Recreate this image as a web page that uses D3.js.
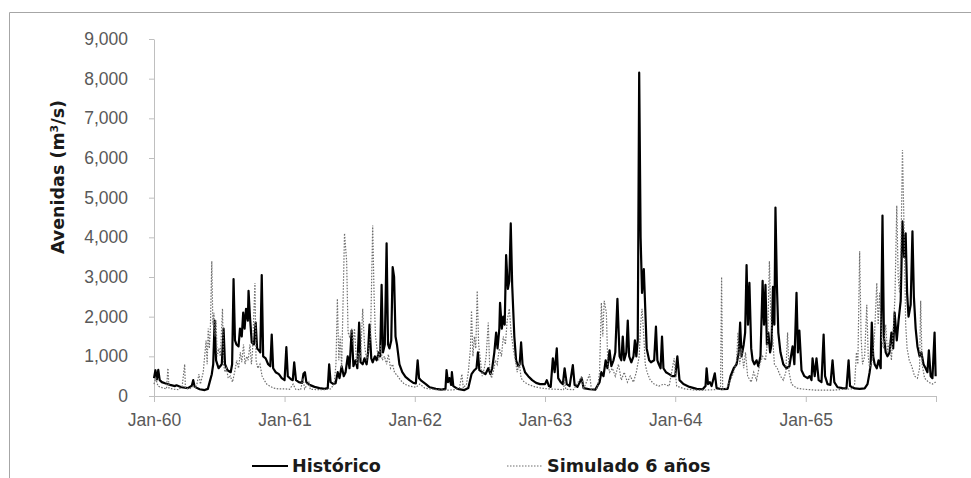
<!DOCTYPE html>
<html lang="es">
<head>
<meta charset="UTF-8">
<title>Avenidas</title>
<script src="https://d3js.org/d3.v7.min.js"></script>
<style>
  body { margin: 0; background: #fff; }
  svg { display: block; font-family: "DejaVu Sans", sans-serif; }
  .axis text { fill: #595959; font-size: 17.5px; }
  .axis path, .axis line { stroke: #bfbfbf; }
  .titulo { font-weight: bold; font-size: 17.5px; fill: #1a1a1a; }
  .leyenda text { font-weight: bold; font-size: 17.6px; fill: #1a1a1a; }
</style>
</head>
<body>
<svg width="971" height="478"></svg>
<script>
// ---- datos ----
const yTicks = [0, 1000, 2000, 3000, 4000, 5000, 6000, 7000, 8000, 9000];
const xTickFechas = ["1960-01-01", "1961-01-01", "1962-01-01", "1963-01-01", "1964-01-01", "1965-01-01", "1966-01-01"];
const xTickEtiquetas = ["Jan-60", "Jan-61", "Jan-62", "Jan-63", "Jan-64", "Jan-65", ""];
const series = ["Histórico", "Simulado 6 años"];

const historico = [
  ["1960-01-01",450],["1960-01-05",650],["1960-01-09",420],["1960-01-13",660],["1960-01-17",400],["1960-01-23",350],
  ["1960-02-01",320],["1960-02-15",280],["1960-02-29",250],["1960-03-04",270],["1960-03-18",220],["1960-04-05",200],
  ["1960-04-16",260],["1960-04-20",400],["1960-04-24",230],["1960-05-08",170],["1960-05-22",150],["1960-05-31",180],
  ["1960-06-05",350],["1960-06-11",550],["1960-06-15",800],["1960-06-19",1900],["1960-06-23",900],["1960-06-30",700],
  ["1960-07-09",800],["1960-07-14",1700],["1960-07-18",800],["1960-07-25",650],["1960-08-03",600],["1960-08-07",800],
  ["1960-08-11",2950],["1960-08-15",1400],["1960-08-19",1300],["1960-08-25",1250],["1960-08-29",1700],["1960-09-03",1500],
  ["1960-09-07",2100],["1960-09-11",1700],["1960-09-15",2200],["1960-09-20",1900],["1960-09-22",2650],["1960-09-26",2000],
  ["1960-10-01",1350],["1960-10-07",1300],["1960-10-12",1850],["1960-10-16",1200],["1960-10-21",1150],["1960-10-25",1100],
  ["1960-10-29",3050],["1960-11-02",1000],["1960-11-09",950],["1960-11-16",800],["1960-11-22",750],["1960-11-26",1550],
  ["1960-11-30",700],["1960-12-07",600],["1960-12-16",550],["1960-12-24",450],
  ["1961-01-01",400],["1961-01-06",1230],["1961-01-10",500],["1961-01-19",420],["1961-01-24",400],["1961-01-28",850],
  ["1961-02-02",400],["1961-02-10",350],["1961-02-19",330],["1961-02-23",560],["1961-02-27",600],["1961-03-03",350],
  ["1961-03-12",280],["1961-03-26",230],["1961-04-09",200],["1961-04-23",180],["1961-05-02",200],["1961-05-06",800],
  ["1961-05-10",350],["1961-05-18",300],["1961-05-24",320],["1961-05-30",600],["1961-06-04",450],["1961-06-10",750],
  ["1961-06-16",500],["1961-06-21",600],["1961-06-27",1000],["1961-07-02",700],["1961-07-08",1650],["1961-07-13",750],
  ["1961-07-19",900],["1961-07-24",700],["1961-07-29",1850],["1961-08-02",850],["1961-08-08",800],["1961-08-13",950],
  ["1961-08-19",800],["1961-08-23",1100],["1961-08-27",1800],["1961-09-01",950],["1961-09-05",850],["1961-09-11",1000],
  ["1961-09-16",900],["1961-09-22",1100],["1961-09-26",1000],["1961-09-30",2800],["1961-10-04",1100],["1961-10-09",1300],
  ["1961-10-14",3850],["1961-10-18",1300],["1961-10-22",1200],["1961-10-27",1400],["1961-10-31",3250],["1961-11-04",3000],
  ["1961-11-08",1500],["1961-11-12",1300],["1961-11-19",800],["1961-11-27",600],["1961-12-06",480],["1961-12-17",400],
  ["1961-12-28",330],
  ["1962-01-04",320],["1962-01-09",900],["1962-01-13",450],["1962-01-20",380],["1962-02-01",300],["1962-02-12",220],
  ["1962-03-01",180],["1962-03-17",160],["1962-03-28",180],["1962-03-31",650],["1962-04-04",350],["1962-04-08",450],
  ["1962-04-13",280],["1962-04-15",600],["1962-04-19",250],["1962-05-01",180],["1962-05-20",150],["1962-05-31",200],
  ["1962-06-09",550],["1962-06-17",650],["1962-06-23",700],["1962-06-27",1100],["1962-07-01",650],["1962-07-09",600],
  ["1962-07-18",550],["1962-07-26",700],["1962-08-01",550],["1962-08-06",700],["1962-08-12",1100],["1962-08-17",1600],
  ["1962-08-21",1200],["1962-08-26",1700],["1962-08-28",2350],["1962-09-02",1700],["1962-09-06",2000],["1962-09-10",1800],
  ["1962-09-14",3550],["1962-09-19",2700],["1962-09-23",2900],["1962-09-27",4350],["1962-10-01",2800],["1962-10-07",1500],
  ["1962-10-12",900],["1962-10-18",750],["1962-10-22",800],["1962-10-26",1350],["1962-10-30",800],["1962-11-06",600],
  ["1962-11-15",500],["1962-11-26",400],["1962-12-07",330],["1962-12-18",300],
  ["1963-01-01",300],["1963-01-06",400],["1963-01-12",250],["1963-01-17",230],["1963-01-23",950],["1963-01-28",600],
  ["1963-02-03",1200],["1963-02-07",450],["1963-02-14",350],["1963-02-20",300],["1963-02-25",700],["1963-03-03",300],
  ["1963-03-11",250],["1963-03-20",780],["1963-03-25",280],["1963-04-02",230],["1963-04-14",450],["1963-04-19",200],
  ["1963-05-06",170],["1963-05-22",160],["1963-06-03",350],["1963-06-08",600],["1963-06-14",500],["1963-06-20",900],
  ["1963-06-25",700],["1963-07-01",1150],["1963-07-06",750],["1963-07-12",900],["1963-07-17",1100],["1963-07-23",2450],
  ["1963-07-29",1000],["1963-08-03",900],["1963-08-07",1500],["1963-08-11",900],["1963-08-17",1100],["1963-08-21",1900],
  ["1963-08-25",1000],["1963-08-31",850],["1963-09-06",1000],["1963-09-10",1400],["1963-09-14",1000],["1963-09-18",1400],
  ["1963-09-22",8150],["1963-09-26",4000],["1963-09-30",2600],["1963-10-05",3200],["1963-10-09",2200],["1963-10-13",1200],
  ["1963-10-20",900],["1963-10-25",850],["1963-11-03",900],["1963-11-08",1750],["1963-11-12",900],["1963-11-16",800],
  ["1963-11-21",700],["1963-11-25",1500],["1963-11-29",700],["1963-12-06",600],["1963-12-15",550],["1963-12-23",500],
  ["1964-01-01",500],["1964-01-07",1000],["1964-01-13",400],["1964-01-24",300],["1964-02-10",230],["1964-03-01",180],
  ["1964-03-18",170],["1964-03-26",250],["1964-03-29",700],["1964-04-02",300],["1964-04-07",350],["1964-04-12",250],
  ["1964-04-21",570],["1964-04-26",200],["1964-05-10",170],["1964-05-27",180],["1964-06-04",500],["1964-06-13",700],
  ["1964-06-21",800],["1964-06-27",1100],["1964-07-01",1850],["1964-07-05",1000],["1964-07-11",1300],["1964-07-15",1600],
  ["1964-07-19",3300],["1964-07-23",1800],["1964-07-27",2850],["1964-08-01",1200],["1964-08-05",900],["1964-08-10",800],
  ["1964-08-16",900],["1964-08-21",750],["1964-08-27",1000],["1964-09-02",2900],["1964-09-06",1800],["1964-09-10",2800],
  ["1964-09-14",1300],["1964-09-18",1600],["1964-09-23",1100],["1964-09-27",1300],["1964-10-01",2750],["1964-10-05",1800],
  ["1964-10-08",4750],["1964-10-12",2800],["1964-10-16",1600],["1964-10-22",1100],["1964-10-30",800],["1964-11-08",700],
  ["1964-11-16",750],["1964-11-25",1250],["1964-11-30",800],["1964-12-06",2600],["1964-12-10",1100],["1964-12-14",1650],
  ["1964-12-20",650],["1964-12-28",500],
  ["1965-01-06",450],["1965-01-12",500],["1965-01-17",400],["1965-01-20",950],["1965-01-26",500],["1965-01-31",950],
  ["1965-02-06",400],["1965-02-14",350],["1965-02-20",1550],["1965-02-24",500],["1965-03-03",300],["1965-03-11",280],
  ["1965-03-17",900],["1965-03-22",350],["1965-03-31",220],["1965-04-14",200],["1965-04-25",190],["1965-05-01",900],
  ["1965-05-05",250],["1965-05-18",190],["1965-06-01",180],["1965-06-15",190],["1965-06-23",300],["1965-06-29",600],
  ["1965-07-02",800],["1965-07-05",1850],["1965-07-09",1000],["1965-07-13",800],["1965-07-19",700],["1965-07-24",900],
  ["1965-07-30",700],["1965-08-04",4550],["1965-08-08",1500],["1965-08-13",1100],["1965-08-18",1000],["1965-08-24",1100],
  ["1965-08-29",1600],["1965-09-03",1200],["1965-09-07",2100],["1965-09-13",1400],["1965-09-18",1900],["1965-09-24",2400],
  ["1965-09-29",4400],["1965-10-04",3500],["1965-10-08",4100],["1965-10-12",2600],["1965-10-16",2000],["1965-10-22",2300],
  ["1965-10-27",4150],["1965-10-31",2500],["1965-11-05",1700],["1965-11-10",1250],["1965-11-16",1000],["1965-11-21",1100],
  ["1965-11-27",800],["1965-12-03",700],["1965-12-08",600],["1965-12-12",1150],["1965-12-17",500],["1965-12-22",450],
  ["1965-12-28",1600],["1965-12-31",500]
];

const simulado = [
  ["1960-01-01",300],["1960-01-06",450],["1960-01-12",250],["1960-01-20",220],["1960-01-28",200],["1960-02-05",180],
  ["1960-02-09",700],["1960-02-12",200],["1960-02-25",170],["1960-03-10",160],["1960-03-20",250],["1960-03-27",800],
  ["1960-03-29",200],["1960-04-10",180],["1960-04-20",250],["1960-04-28",200],["1960-05-06",550],["1960-05-10",300],
  ["1960-05-18",600],["1960-05-22",1000],["1960-05-26",1400],["1960-05-29",800],["1960-06-01",1700],["1960-06-04",1200],
  ["1960-06-07",1700],["1960-06-11",3400],["1960-06-14",1800],["1960-06-17",2100],["1960-06-20",1500],["1960-06-23",1900],
  ["1960-06-26",1000],["1960-07-01",1200],["1960-07-05",1000],["1960-07-11",2200],["1960-07-14",800],["1960-07-18",600],
  ["1960-07-22",700],["1960-07-27",450],["1960-08-02",500],["1960-08-08",350],["1960-08-14",600],["1960-08-20",900],
  ["1960-08-25",700],["1960-08-30",1100],["1960-09-03",850],["1960-09-08",1300],["1960-09-12",800],["1960-09-17",1000],
  ["1960-09-21",900],["1960-09-26",1300],["1960-09-30",800],["1960-10-03",1100],["1960-10-10",2850],["1960-10-13",900],
  ["1960-10-18",700],["1960-10-24",800],["1960-10-30",500],["1960-11-05",400],["1960-11-12",300],["1960-11-20",250],
  ["1960-12-01",200],["1960-12-15",180],
  ["1961-01-01",180],["1961-01-15",170],["1961-01-25",300],["1961-02-01",170],["1961-02-15",160],["1961-02-22",450],
  ["1961-02-26",180],["1961-03-10",350],["1961-03-14",170],["1961-04-01",160],["1961-04-25",160],["1961-05-10",180],
  ["1961-05-20",300],["1961-05-25",800],["1961-05-29",2450],["1961-06-02",900],["1961-06-06",1500],["1961-06-10",700],
  ["1961-06-18",4100],["1961-06-24",3400],["1961-06-28",1600],["1961-07-02",1500],["1961-07-08",1700],["1961-07-12",1300],
  ["1961-07-16",1700],["1961-07-22",800],["1961-07-27",1100],["1961-08-02",1000],["1961-08-08",2200],["1961-08-13",1300],
  ["1961-08-19",900],["1961-08-25",1200],["1961-08-30",1500],["1961-09-05",4300],["1961-09-09",2500],["1961-09-13",1500],
  ["1961-09-17",1200],["1961-09-22",900],["1961-09-27",1300],["1961-10-02",900],["1961-10-08",1000],["1961-10-14",800],
  ["1961-10-19",1050],["1961-10-25",700],["1961-10-31",800],["1961-11-05",600],["1961-11-14",500],["1961-11-22",400],
  ["1961-12-03",300],["1961-12-17",250],
  ["1962-01-04",220],["1962-01-15",300],["1962-01-29",200],["1962-02-12",180],["1962-03-11",150],["1962-04-08",150],
  ["1962-04-25",160],["1962-05-06",200],["1962-05-13",550],["1962-05-17",200],["1962-05-26",300],["1962-05-31",600],
  ["1962-06-06",1200],["1962-06-09",2150],["1962-06-13",1000],["1962-06-17",1500],["1962-06-21",1200],["1962-06-25",2650],
  ["1962-06-29",1300],["1962-07-04",900],["1962-07-09",500],["1962-07-15",700],["1962-07-20",1000],["1962-07-26",1850],
  ["1962-07-30",700],["1962-08-04",450],["1962-08-09",600],["1962-08-15",900],["1962-08-20",800],["1962-08-26",1200],
  ["1962-09-01",1000],["1962-09-06",1500],["1962-09-12",1300],["1962-09-17",1900],["1962-09-23",2200],["1962-09-28",1600],
  ["1962-10-04",1200],["1962-10-10",900],["1962-10-15",600],["1962-10-21",850],["1962-10-26",450],["1962-11-04",350],
  ["1962-11-18",280],["1962-12-04",230],["1962-12-21",200],
  ["1963-01-09",180],["1963-01-31",170],["1963-02-22",160],["1963-02-25",450],["1963-02-28",170],["1963-03-22",160],
  ["1963-04-14",500],["1963-04-19",170],["1963-05-06",550],["1963-05-11",170],["1963-05-28",200],["1963-06-03",600],
  ["1963-06-08",2350],["1963-06-12",1500],["1963-06-16",2400],["1963-06-22",2100],["1963-06-26",800],["1963-07-01",600],
  ["1963-07-09",700],["1963-07-17",500],["1963-07-26",800],["1963-08-03",400],["1963-08-11",600],["1963-08-20",350],
  ["1963-08-28",500],["1963-09-06",350],["1963-09-14",600],["1963-09-22",1000],["1963-09-26",1800],["1963-09-30",2200],
  ["1963-10-05",1500],["1963-10-09",800],["1963-10-14",600],["1963-10-23",400],["1963-11-03",300],["1963-11-16",250],
  ["1963-11-30",300],["1963-12-15",250],["1963-12-29",950],
  ["1964-01-05",250],["1964-01-27",180],["1964-02-24",150],["1964-03-23",150],["1964-04-21",160],["1964-05-07",170],
  ["1964-05-10",3000],["1964-05-13",170],["1964-05-24",200],["1964-06-04",400],["1964-06-13",600],["1964-06-21",900],
  ["1964-06-25",1600],["1964-06-30",800],["1964-07-05",1200],["1964-07-11",700],["1964-07-16",1100],["1964-07-22",500],
  ["1964-08-01",350],["1964-08-08",600],["1964-08-16",400],["1964-08-25",800],["1964-09-02",1000],["1964-09-10",900],
  ["1964-09-16",1400],["1964-09-21",3400],["1964-09-25",2000],["1964-09-30",1500],["1964-10-05",800],["1964-10-13",700],
  ["1964-10-22",500],["1964-10-30",400],["1964-11-06",600],["1964-11-11",1600],["1964-11-15",600],["1964-11-22",300],
  ["1964-12-06",200],["1964-12-28",170],
  ["1965-01-26",150],["1965-02-22",150],["1965-03-22",150],["1965-04-20",170],["1965-05-09",180],["1965-05-18",300],
  ["1965-05-23",1100],["1965-05-27",800],["1965-06-01",3650],["1965-06-05",1500],["1965-06-09",800],["1965-06-15",1000],
  ["1965-06-21",2300],["1965-06-25",1000],["1965-06-29",700],["1965-07-07",900],["1965-07-13",1600],["1965-07-19",2850],
  ["1965-07-23",1800],["1965-07-27",2600],["1965-08-02",1400],["1965-08-07",1200],["1965-08-13",1800],["1965-08-18",1100],
  ["1965-08-24",1400],["1965-08-29",900],["1965-09-04",1800],["1965-09-08",2500],["1965-09-13",4800],["1965-09-17",3000],
  ["1965-09-21",2600],["1965-09-25",3800],["1965-09-29",6200],["1965-10-04",4000],["1965-10-08",1800],["1965-10-12",1200],
  ["1965-10-18",900],["1965-10-25",750],["1965-11-02",500],["1965-11-10",450],["1965-11-16",700],["1965-11-19",2400],
  ["1965-11-23",800],["1965-11-30",450],["1965-12-11",350],["1965-12-22",300],["1965-12-31",350]
];

// ---- dibujo ----
const svg = d3.select("svg");
const parse = d3.timeParse("%Y-%m-%d");
const margin = { left: 154, right: 35, top: 39, bottom: 82 };
const width = 971, height = 478;

const x = d3.scaleTime()
  .domain([parse("1960-01-01"), parse("1966-01-01")])
  .range([margin.left, width - margin.right]);
const y = d3.scaleLinear()
  .domain([0, 9000])
  .range([height - margin.bottom, margin.top]);

// marco exterior
svg.append("path")
  .attr("d", "M9.5,478 V12.5 H971")
  .attr("fill", "none")
  .attr("stroke", "#a6a6a6")
  .attr("stroke-width", 1);

const xTicks = xTickFechas.map(parse);
svg.append("g")
  .attr("class", "axis")
  .attr("transform", `translate(0,${y(0)})`)
  .call(d3.axisBottom(x).tickValues(xTicks).tickSize(6).tickSizeOuter(0).tickPadding(12)
    .tickFormat((d, i) => xTickEtiquetas[i]));

svg.append("g")
  .attr("class", "axis")
  .attr("transform", `translate(${margin.left},0)`)
  .call(d3.axisLeft(y).tickValues(yTicks).tickSize(5).tickSizeOuter(0).tickPadding(21)
    .tickFormat(d3.format(",")));

const line = d3.line()
  .x(d => x(parse(d[0])))
  .y(d => y(d[1]));

svg.append("path")
  .datum(historico)
  .attr("fill", "none")
  .attr("stroke", "#000")
  .attr("stroke-width", 2.2)
  .attr("stroke-linejoin", "round")
  .attr("d", line);

svg.append("path")
  .datum(simulado)
  .attr("fill", "none")
  .attr("stroke", "#6e6e6e")
  .attr("stroke-width", 1.2)
  .attr("stroke-dasharray", "1.5,1.5")
  .attr("d", line);

svg.append("text")
  .attr("class", "titulo")
  .attr("transform", "translate(64,177) rotate(-90)")
  .attr("text-anchor", "middle")
  .text("Avenidas (m")
  .append("tspan").attr("baseline-shift", "super").attr("font-size", "11px").text("3")
  .select(function () { return this.parentNode; })
  .append("tspan").text("/s)");

// leyenda
const ley = svg.append("g").attr("class", "leyenda");
const legX = [252, 507];
series.forEach((s, i) => {
  const g = ley.append("g").attr("transform", `translate(${legX[i]},466)`);
  g.append("line")
    .attr("x1", 0).attr("x2", 36)
    .attr("stroke", i === 0 ? "#000" : "#6e6e6e")
    .attr("stroke-width", i === 0 ? 2.2 : 1.2)
    .attr("stroke-dasharray", i === 0 ? null : "1.5,1.5");
  g.append("text").attr("x", 40).attr("dy", "0.36em").text(s);
});
</script>
</body>
</html>
